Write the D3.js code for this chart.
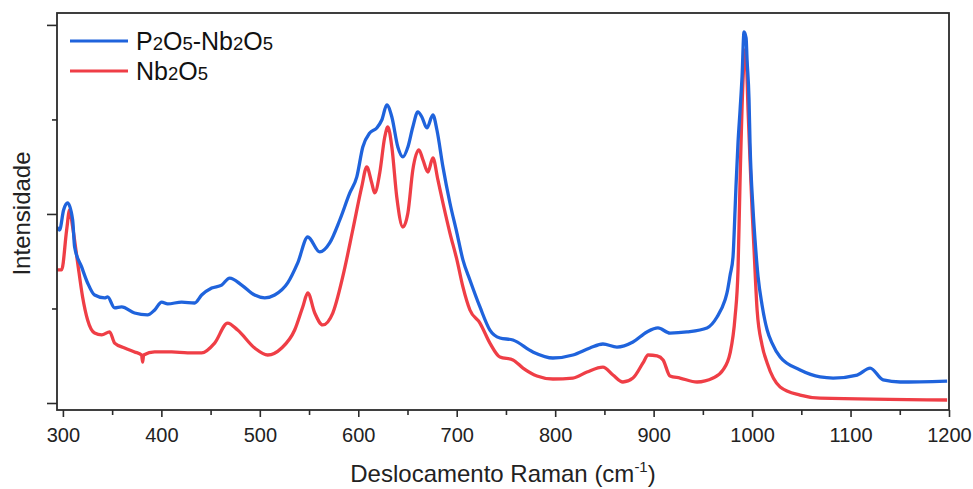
<!DOCTYPE html>
<html>
<head>
<meta charset="utf-8">
<script src="https://cdn.jsdelivr.net/npm/d3@7"></script>
<style>
  html, body { margin: 0; padding: 0; background: #fff; }
  svg { display: block; font-family: "Liberation Sans", Arial, sans-serif; }
</style>
</head>
<body>
<svg id="chart" width="973" height="489"></svg>
<script>
// Raman spectrum of the P2O5-Nb2O5 sample (cm-1, arbitrary intensity)
const pnShift = [293.6, 296.6, 300.7, 304.8, 309.9, 311.9, 319.0, 325.1, 332.2, 342.4, 345.4, 352.5, 359.6, 372.8, 386.0, 393.2, 400.3, 406.4, 420.6, 433.8, 440.9, 451.1, 461.2, 469.4, 481.6, 494.8, 505.0, 515.1, 528.3, 538.5, 548.7, 560.9, 571.0, 581.2, 591.4, 598.5, 604.6, 611.7, 618.8, 623.9, 629.0, 634.1, 640.2, 645.3, 650.4, 655.4, 660.5, 664.6, 669.7, 675.8, 679.9, 686.0, 693.1, 700.2, 706.3, 713.4, 723.6, 733.7, 743.9, 757.1, 777.4, 797.7, 818.0, 835.3, 848.5, 862.7, 879.0, 893.2, 904.4, 916.6, 933.9, 954.2, 964.4, 972.5, 974.5, 977.7, 980.6, 982.7, 983.7, 985.7, 987.8, 989.8, 991.8, 993.9, 994.9, 996.9, 997.9, 1001.0, 1003.0, 1006.1, 1010.1, 1015.3, 1020.3, 1028.5, 1048.8, 1069.1, 1082.3, 1106.7, 1119.9, 1133.1, 1150.4, 1198.1];
const pnIntensity = [0.931, 0.915, 1.021, 1.058, 0.968, 0.825, 0.720, 0.635, 0.571, 0.556, 0.561, 0.503, 0.508, 0.476, 0.466, 0.492, 0.534, 0.524, 0.534, 0.529, 0.571, 0.608, 0.624, 0.661, 0.624, 0.571, 0.556, 0.571, 0.635, 0.741, 0.878, 0.799, 0.847, 0.968, 1.111, 1.196, 1.354, 1.429, 1.455, 1.497, 1.577, 1.513, 1.354, 1.302, 1.354, 1.460, 1.540, 1.513, 1.455, 1.524, 1.444, 1.249, 1.058, 0.899, 0.757, 0.651, 0.508, 0.386, 0.344, 0.333, 0.270, 0.238, 0.254, 0.291, 0.312, 0.296, 0.323, 0.376, 0.397, 0.370, 0.376, 0.397, 0.455, 0.545, 0.582, 0.677, 0.772, 1.021, 1.153, 1.376, 1.550, 1.725, 1.963, 1.931, 1.815, 1.603, 1.376, 1.021, 0.862, 0.667, 0.519, 0.386, 0.317, 0.243, 0.175, 0.138, 0.132, 0.148, 0.185, 0.122, 0.111, 0.116];

// Raman spectrum of Nb2O5
const nbShift = [291.6, 293.6, 298.7, 303.8, 306.8, 309.9, 315.0, 320.0, 325.1, 332.2, 339.4, 347.5, 352.5, 362.7, 372.8, 379.9, 381.0, 382.0, 393.2, 410.5, 426.7, 440.9, 454.1, 467.3, 477.5, 494.8, 508.0, 522.2, 535.4, 543.6, 548.7, 555.8, 563.9, 574.1, 584.2, 594.4, 603.5, 608.6, 613.7, 616.7, 621.8, 626.9, 630.0, 634.1, 639.1, 645.3, 650.4, 655.4, 661.6, 665.7, 670.7, 675.8, 680.9, 686.0, 693.1, 700.2, 706.3, 713.4, 723.6, 733.7, 743.9, 757.1, 767.3, 781.5, 797.7, 818.0, 832.3, 848.5, 858.7, 868.8, 879.0, 889.2, 894.4, 903.5, 909.6, 916.6, 926.8, 944.1, 960.4, 970.5, 977.7, 982.7, 985.7, 987.8, 990.8, 992.8, 993.9, 995.9, 997.9, 1000.0, 1002.0, 1005.1, 1010.1, 1015.3, 1028.5, 1048.8, 1069.1, 1198.1];
const nbIntensity = [0.794, 0.704, 0.704, 0.915, 1.021, 0.931, 0.741, 0.561, 0.439, 0.370, 0.360, 0.376, 0.317, 0.291, 0.270, 0.254, 0.217, 0.254, 0.270, 0.270, 0.265, 0.265, 0.317, 0.423, 0.386, 0.291, 0.254, 0.291, 0.386, 0.508, 0.582, 0.476, 0.413, 0.476, 0.667, 0.915, 1.143, 1.249, 1.164, 1.111, 1.217, 1.407, 1.460, 1.354, 1.090, 0.931, 1.005, 1.233, 1.339, 1.286, 1.222, 1.296, 1.180, 1.058, 0.899, 0.757, 0.614, 0.492, 0.423, 0.317, 0.243, 0.228, 0.185, 0.143, 0.127, 0.132, 0.164, 0.190, 0.148, 0.111, 0.132, 0.212, 0.254, 0.249, 0.228, 0.143, 0.132, 0.111, 0.132, 0.175, 0.265, 0.455, 0.704, 1.180, 1.709, 1.868, 1.841, 1.550, 1.286, 1.021, 0.810, 0.492, 0.307, 0.212, 0.085, 0.042, 0.026, 0.016];

// Axis ticks
const xTickValues = [300, 400, 500, 600, 700, 800, 900, 1000, 1100, 1200];
const xMinorTicks = [350, 450, 550, 650, 750, 850, 950, 1050, 1150];
const yMajorTicks = [0, 1, 2];
const yMinorTicks = [0.5, 1.5];

const seriesNames = ["P2O5-Nb2O5", "Nb2O5"];
const seriesColors = ["#1f63dc", "#ef3e46"];

const svg = d3.select("#chart");
const margin = { top: 13, right: 24, bottom: 79, left: 57 };
const W = 973, H = 489;
const innerRight = W - margin.right, innerBottom = H - margin.bottom;

const x = d3.scaleLinear().domain([294, 1200]).range([margin.left, innerRight]);
const y = d3.scaleLinear().domain([-0.037, 2.063]).range([innerBottom, margin.top]);

const series = [
  { name: seriesNames[0], color: seriesColors[0], pts: pnShift.map((s, i) => [s, pnIntensity[i]]) },
  { name: seriesNames[1], color: seriesColors[1], pts: nbShift.map((s, i) => [s, nbIntensity[i]]) }
];

// Clip the spectra to the frame
svg.append("clipPath").attr("id", "plot-clip")
  .append("rect")
  .attr("x", margin.left).attr("y", margin.top)
  .attr("width", innerRight - margin.left).attr("height", innerBottom - margin.top);

const line = d3.line()
  .x(d => x(d[0]))
  .y(d => y(d[1]))
  .curve(d3.curveMonotoneX);

// Draw Nb2O5 first so the mixed-oxide trace sits on top
const plot = svg.append("g").attr("clip-path", "url(#plot-clip)");
[series[1], series[0]].forEach(s => {
  plot.append("path")
    .datum(s.pts)
    .attr("fill", "none")
    .attr("stroke", s.color)
    .attr("stroke-width", 3.3)
    .attr("stroke-linejoin", "round")
    .attr("d", line);
});

// Bottom axis with major and minor ticks
const axisColor = "#2b2b2b";
const xAxis = svg.append("g")
  .attr("transform", `translate(0,${innerBottom})`)
  .call(d3.axisBottom(x).tickValues(xTickValues).tickSize(7).tickPadding(11).tickFormat(d3.format("d")));
xAxis.append("g").call(d3.axisBottom(x).tickValues(xMinorTicks).tickSize(5).tickFormat(""));
xAxis.selectAll(".domain").remove();
xAxis.selectAll("line").attr("stroke", axisColor).attr("stroke-width", 1.6);
xAxis.selectAll("text").attr("fill", "#222").attr("font-size", 20);

// Left axis: unlabelled ticks only
const yAxis = svg.append("g")
  .attr("transform", `translate(${margin.left},0)`)
  .call(d3.axisLeft(y).tickValues(yMajorTicks).tickSize(10).tickFormat(""));
yAxis.append("g").call(d3.axisLeft(y).tickValues(yMinorTicks).tickSize(5).tickFormat(""));
yAxis.selectAll(".domain").remove();
yAxis.selectAll("line").attr("stroke", axisColor).attr("stroke-width", 1.6);

// Frame
svg.append("rect")
  .attr("x", margin.left).attr("y", margin.top)
  .attr("width", innerRight - margin.left).attr("height", innerBottom - margin.top)
  .attr("fill", "none").attr("stroke", axisColor).attr("stroke-width", 1.8);

// Writes a chemical formula with smaller digits
function formula(textSel, str, size) {
  str.split(/(\d+)/).filter(p => p.length).forEach(p => {
    textSel.append("tspan")
      .attr("font-size", /^\d+$/.test(p) ? size * 0.74 : size)
      .text(p);
  });
}

// Legend
const legend = svg.append("g");
series.forEach((s, i) => {
  const ly = 41 + i * 30;
  legend.append("line")
    .attr("x1", 70).attr("x2", 128).attr("y1", ly).attr("y2", ly)
    .attr("stroke", s.color).attr("stroke-width", 3.2);
  const t = legend.append("text")
    .attr("x", 136).attr("y", ly + 9)
    .attr("fill", "#111");
  formula(t, s.name, 25);
});

// Axis titles
const xt = svg.append("text")
  .attr("x", (margin.left + innerRight) / 2).attr("y", 482)
  .attr("text-anchor", "middle").attr("fill", "#222").attr("font-size", 24);
xt.append("tspan").text("Deslocamento Raman (cm");
xt.append("tspan").attr("font-size", 15).attr("dy", -10).text("-1");
xt.append("tspan").attr("dy", 10).text(")");

svg.append("text")
  .attr("transform", `translate(30,${(margin.top + innerBottom) / 2 + 2}) rotate(-90)`)
  .attr("text-anchor", "middle").attr("fill", "#222").attr("font-size", 24)
  .text("Intensidade");
</script>
</body>
</html>
